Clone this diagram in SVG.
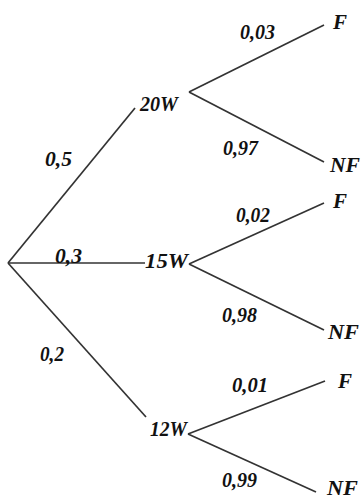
<svg xmlns="http://www.w3.org/2000/svg" width="361" height="500" viewBox="0 0 361 500">
<style>
text{font-family:"Liberation Serif","Times New Roman",serif;font-weight:bold;font-style:italic;font-size:21px;fill:#111}
.e{stroke:#333;stroke-width:1.7;fill:none}
</style>
<rect width="361" height="500" fill="#fff"/>
<g id="edges">
<line class="e" x1="8" y1="263" x2="135" y2="108"/>
<line class="e" x1="8" y1="263" x2="145" y2="263"/>
<line class="e" x1="8" y1="263" x2="146" y2="417"/>
<line class="e" x1="189" y1="92" x2="324" y2="25"/>
<line class="e" x1="189" y1="92" x2="324" y2="162"/>
<line class="e" x1="189" y1="264" x2="324" y2="203"/>
<line class="e" x1="189" y1="264" x2="324" y2="330"/>
<line class="e" x1="188" y1="434" x2="325" y2="381"/>
<line class="e" x1="188" y1="434" x2="316" y2="492"/>
</g>
<g id="edge-labels">
<text x="45" y="166" textLength="27" lengthAdjust="spacingAndGlyphs">0,5</text>
<text x="55" y="263" textLength="27" lengthAdjust="spacingAndGlyphs">0,3</text>
<text x="40" y="361" textLength="24" lengthAdjust="spacingAndGlyphs">0,2</text>
<text x="240" y="39" textLength="35" lengthAdjust="spacingAndGlyphs">0,03</text>
<text x="223" y="155" textLength="35" lengthAdjust="spacingAndGlyphs">0,97</text>
<text x="236" y="222" textLength="34" lengthAdjust="spacingAndGlyphs">0,02</text>
<text x="222" y="322" textLength="35" lengthAdjust="spacingAndGlyphs">0,98</text>
<text x="232" y="392" textLength="36" lengthAdjust="spacingAndGlyphs">0,01</text>
<text x="222" y="487" textLength="35" lengthAdjust="spacingAndGlyphs">0,99</text>
</g>
<g id="n20W"><text x="140" y="111" textLength="38" lengthAdjust="spacingAndGlyphs">20W</text></g>
<g id="n15W"><text x="145" y="268" textLength="43" lengthAdjust="spacingAndGlyphs">15W</text></g>
<g id="n12W"><text x="150" y="436" textLength="37" lengthAdjust="spacingAndGlyphs">12W</text></g>
<g id="F1"><text x="333" y="29">F</text></g>
<g id="NF1"><text x="330" y="172" textLength="30" lengthAdjust="spacingAndGlyphs">NF</text></g>
<g id="F2"><text x="333" y="208">F</text></g>
<g id="NF2"><text x="328" y="339" textLength="31" lengthAdjust="spacingAndGlyphs">NF</text></g>
<g id="F3"><text x="338" y="388">F</text></g>
<g id="NF3"><text x="327" y="495" font-size="18" textLength="31" lengthAdjust="spacingAndGlyphs">NF</text></g>
</svg>
